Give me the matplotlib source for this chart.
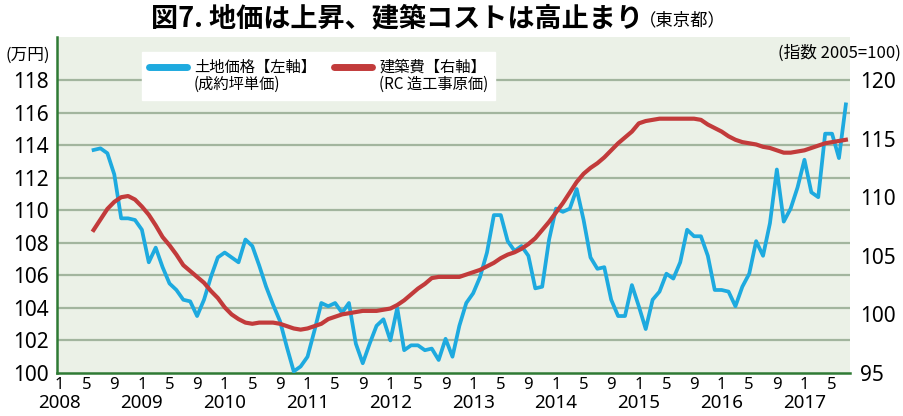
import numpy as np
import pandas as pd
import matplotlib.pyplot as plt
import matplotlib.transforms as mtransforms
from matplotlib.lines import Line2D

plt.rcParams['font.family'] = ['Noto Sans', 'Noto Sans CJK JP', 'DejaVu Sans']

# monthly series, Jun 2008 - Jul 2017
meses = pd.period_range('2008-06', '2017-07', freq='M')

# 土地価格 (成約坪単価, 万円) - left axis
tochi = [
    113.7, 113.8, 113.5, 112.2, 109.5, 109.5, 109.4, 108.8, 106.8, 107.7,
    106.5, 105.5, 105.1, 104.5, 104.4, 103.5, 104.5, 105.9, 107.1, 107.4,
    107.1, 106.8, 108.2, 107.8, 106.6, 105.3, 104.2, 103.2, 101.6, 100.1,
    100.4, 101.0, 102.6, 104.3, 104.1, 104.3, 103.7, 104.3, 101.8, 100.6,
    101.8, 102.9, 103.3, 102.0, 104.0, 101.4, 101.7, 101.7, 101.4, 101.5,
    100.8, 102.1, 101.0, 102.9, 104.3, 104.9, 105.9, 107.4, 109.7, 109.7,
    108.1, 107.5, 107.8, 107.2, 105.2, 105.3, 108.2, 110.1, 109.9, 110.1,
    111.3, 109.4, 107.1, 106.4, 106.5, 104.5, 103.5, 103.5, 105.4, 104.1,
    102.7, 104.5, 105.0, 106.1, 105.8, 106.8, 108.8, 108.4, 108.4, 107.2,
    105.1, 105.1, 105.0, 104.1, 105.3, 106.1, 108.1, 107.2, 109.2, 112.5,
    109.3, 110.1, 111.4, 113.1, 111.1, 110.8, 114.7, 114.7, 113.2, 116.5,
]

# 建築費 (RC造工事原価, 2005=100) - right axis
kenchiku = [
    107.2, 108.1, 109.0, 109.6, 110.0, 110.1, 109.8, 109.2, 108.5, 107.6,
    106.6, 105.9, 105.1, 104.2, 103.7, 103.2, 102.7, 102.0, 101.4, 100.6,
    100.0, 99.6, 99.3, 99.2, 99.3, 99.3, 99.3, 99.2, 99.0, 98.8,
    98.7, 98.8, 99.0, 99.2, 99.6, 99.8, 100.0, 100.1, 100.2, 100.3,
    100.3, 100.3, 100.4, 100.5, 100.8, 101.2, 101.7, 102.2, 102.6, 103.1,
    103.2, 103.2, 103.2, 103.2, 103.4, 103.6, 103.8, 104.1, 104.4, 104.8,
    105.1, 105.3, 105.6, 106.0, 106.5, 107.2, 107.9, 108.7, 109.5, 110.4,
    111.3, 112.0, 112.5, 112.9, 113.4, 114.0, 114.6, 115.1, 115.6, 116.3,
    116.5, 116.6, 116.7, 116.7, 116.7, 116.7, 116.7, 116.7, 116.6, 116.2,
    115.9, 115.6, 115.2, 114.9, 114.7, 114.6, 114.5, 114.3, 114.2, 114.0,
    113.8, 113.8, 113.9, 114.0, 114.2, 114.4, 114.6, 114.7, 114.8, 114.9,
]

years = list(range(2008, 2018))
tick_months = [1, 5, 9]

# x position = months since Jan 2008
x = np.array([(p.year - 2008) * 12 + p.month - 1 for p in meses])

ticks, labels = [], []
for y in years:
    for m in tick_months:
        pos = (y - 2008) * 12 + m - 1
        if pos <= x.max():
            ticks.append(pos)
            labels.append(str(m))

fig = plt.figure(figsize=(9.04, 4.16), dpi=100)
ax = fig.add_axes([57 / 904, 1 - 373 / 416, 793 / 904, 336 / 416])
ax.set_facecolor('#ebf1e7')

blue = '#1eaadf'
red = '#c23b3b'
green = '#2f7a34'

for g in np.arange(102, 119, 2):
    ax.axhline(g, color='#a2b59e', lw=1.6, zorder=1)
ax.plot(x, tochi, color=blue, lw=2.7, zorder=3)
ax.set_ylim(100, 120.64)
ax.set_yticks(np.arange(100, 119, 2))
ax.set_xlim(-0.3, 114.6)
ax.set_xticks(ticks)
ax.set_xticklabels(labels)

ax2 = ax.twinx()
ax2.plot(x, kenchiku, color=red, lw=3.0, zorder=3)
ax2.set_ylim(95, 123.67)
ax2.set_yticks(np.arange(95, 121, 5))

for a in (ax, ax2):
    for s in a.spines.values():
        s.set_visible(False)
for side in ('left', 'bottom'):
    ax.spines[side].set_visible(True)
    ax.spines[side].set_color(green)
    ax.spines[side].set_linewidth(1.8)

ax.tick_params(axis='y', length=0, pad=6, labelsize=15)
ax.tick_params(axis='x', length=0, pad=3, labelsize=12)
ax2.tick_params(axis='y', length=0, pad=7, labelsize=15)

# year row under the "1" ticks
trans = mtransforms.blended_transform_factory(ax.transData, fig.transFigure)
for y in years:
    ax.text((y - 2008) * 12, 1 - 403 / 416, str(y), transform=trans,
            ha='center', va='center', fontsize=13.5)

handles = [Line2D([], [], color=blue, lw=5, solid_capstyle='round'),
           Line2D([], [], color='none'),
           Line2D([], [], color=red, lw=5, solid_capstyle='round'),
           Line2D([], [], color='none')]
names = ['土地価格【左軸】', '(成約坪単価)', '建築費【右軸】', '(RC 造工事原価)']
leg = ax2.legend(handles, names, ncol=2, loc='upper left',
                 bbox_to_anchor=(0.107, 0.955), frameon=True, fancybox=False,
                 framealpha=1, edgecolor='white',
                 prop={'family': ['Noto Sans CJK JP'], 'size': 11},
                 handlelength=2.5, handletextpad=0.45, columnspacing=1.2,
                 labelspacing=0.0, borderpad=0.45, borderaxespad=0)
leg.set_zorder(10)

fig.text(0.711, 0.955, '図7. 地価は上昇、建築コストは高止まり', ha='right', va='center',
         fontsize=19.5, fontweight='bold', family=['Noto Sans CJK JP'])
fig.text(0.707, 0.951, '（東京都）', ha='left', va='center', fontsize=12.5,
         family=['Noto Sans CJK JP'])
fig.text(0.006, 0.868, '(万円)', ha='left', va='center', fontsize=12,
         family=['Noto Sans CJK JP'])
fig.text(0.997, 0.872, '(指数 2005=100)', ha='right', va='center', fontsize=12,
         family=['Noto Sans CJK JP'])

fig.savefig('out.png', dpi=100)
